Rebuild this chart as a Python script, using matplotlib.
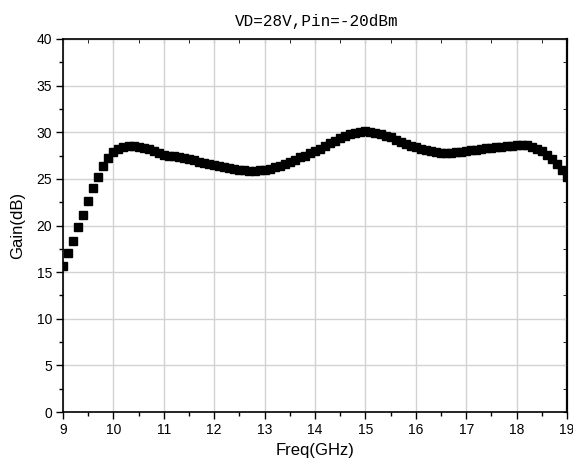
import numpy as np
import matplotlib
matplotlib.use("Agg")
import matplotlib.pyplot as plt
from matplotlib.ticker import MultipleLocator

# Freq (GHz), 0.1 GHz step
freq = [9.0, 9.1, 9.2, 9.3, 9.4, 9.5, 9.6, 9.7, 9.8, 9.9,
        10.0, 10.1, 10.2, 10.3, 10.4, 10.5, 10.6, 10.7, 10.8, 10.9,
        11.0, 11.1, 11.2, 11.3, 11.4, 11.5, 11.6, 11.7, 11.8, 11.9,
        12.0, 12.1, 12.2, 12.3, 12.4, 12.5, 12.6, 12.7, 12.8, 12.9,
        13.0, 13.1, 13.2, 13.3, 13.4, 13.5, 13.6, 13.7, 13.8, 13.9,
        14.0, 14.1, 14.2, 14.3, 14.4, 14.5, 14.6, 14.7, 14.8, 14.9,
        15.0, 15.1, 15.2, 15.3, 15.4, 15.5, 15.6, 15.7, 15.8, 15.9,
        16.0, 16.1, 16.2, 16.3, 16.4, 16.5, 16.6, 16.7, 16.8, 16.9,
        17.0, 17.1, 17.2, 17.3, 17.4, 17.5, 17.6, 17.7, 17.8, 17.9,
        18.0, 18.1, 18.2, 18.3, 18.4, 18.5, 18.6, 18.7, 18.8, 18.9,
        19.0]

gain = [15.7, 17.0, 18.35, 19.8, 21.15, 22.65, 24.0, 25.25, 26.35, 27.2,
        27.85, 28.25, 28.45, 28.55, 28.55, 28.45, 28.35, 28.2, 28.0, 27.8,
        27.6, 27.5, 27.4, 27.3, 27.2, 27.1, 27.0, 26.85, 26.7, 26.6,
        26.45, 26.35, 26.25, 26.15, 26.05, 25.95, 25.9, 25.85, 25.85, 25.9,
        26.0, 26.1, 26.25, 26.4, 26.6, 26.85, 27.05, 27.3, 27.5, 27.75,
        28.0, 28.25, 28.55, 28.8, 29.1, 29.35, 29.6, 29.8, 29.95, 30.05,
        30.1, 30.05, 29.95, 29.8, 29.65, 29.45, 29.2, 28.95, 28.75, 28.55,
        28.4, 28.2, 28.05, 27.95, 27.85, 27.8, 27.8, 27.8, 27.85, 27.9,
        28.0, 28.05, 28.1, 28.2, 28.3, 28.35, 28.4, 28.45, 28.5, 28.55,
        28.6, 28.65, 28.6, 28.45, 28.25, 28.0, 27.6, 27.15, 26.6, 26.0,
        25.2]

xticks = [9, 10, 11, 12, 13, 14, 15, 16, 17, 18, 19]
yticks = [0, 5, 10, 15, 20, 25, 30, 35, 40]

plt.rcParams["font.family"] = ["Liberation Sans", "DejaVu Sans"]

fig = plt.figure(figsize=(5.73, 4.70), dpi=100)
ax = fig.add_axes([63 / 573, 1 - 412 / 470, 504 / 573, 373 / 470])

ax.plot(freq, gain, linestyle="none", marker="s", markersize=5.3,
        color="black", clip_on=True, zorder=3)

ax.set_xlim(9, 19)
ax.set_ylim(0, 40)
ax.set_xticks(xticks)
ax.set_yticks(yticks)
ax.xaxis.set_minor_locator(MultipleLocator(0.5))
ax.yaxis.set_minor_locator(MultipleLocator(2.5))

ax.grid(True, which="major", color="#d2d2d2", linewidth=1.0, zorder=0)
ax.set_axisbelow(True)

ax.tick_params(axis="both", which="major", direction="out", length=5,
               width=1, labelsize=10, pad=3)
ax.tick_params(axis="both", which="minor", direction="out", length=3, width=1)

# mirrored ticks on the top and right spines
sec_x = ax.secondary_xaxis("top")
sec_x.set_xticks(xticks)
sec_x.xaxis.set_minor_locator(MultipleLocator(0.5))
sec_x.tick_params(which="both", direction="in", length=3, labeltop=False)
sec_y = ax.secondary_yaxis("right")
sec_y.set_yticks(yticks)
sec_y.yaxis.set_minor_locator(MultipleLocator(2.5))
sec_y.tick_params(which="both", direction="in", length=3, labelright=False)

for s in ax.spines.values():
    s.set_linewidth(1.2)
sec_y.spines["right"].set_linewidth(1.6)

ax.set_xlabel("Freq(GHz)", fontsize=12, labelpad=4)
ax.set_ylabel("Gain(dB)", fontsize=12, labelpad=8)

fig.text(0.553, 0.955, "VD=28V,Pin=-20dBm", ha="center", va="center",
         fontsize=11.5, family=["Liberation Mono", "DejaVu Sans Mono"])

fig.savefig("out.png", dpi=100)
